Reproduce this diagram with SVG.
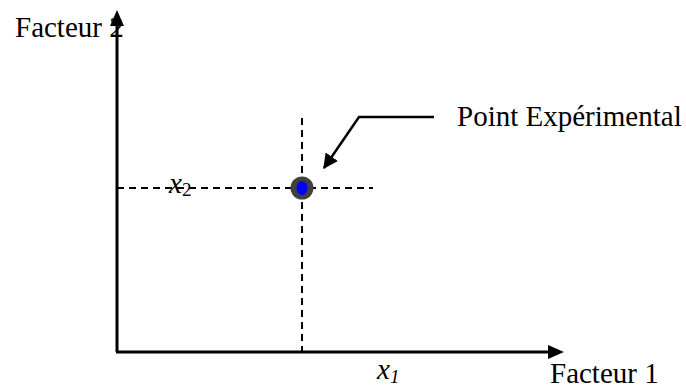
<svg xmlns="http://www.w3.org/2000/svg" width="686" height="390" viewBox="0 0 686 390">
<style>
.t{font-family:"Liberation Serif","Times New Roman",serif;font-size:29px;fill:#000}
.v{font-family:"Liberation Serif","Times New Roman",serif;font-style:italic;font-size:29px;fill:#000}
.s{font-size:19px}
.axis{stroke:#000;stroke-width:3;fill:none}
.dash{stroke:#000;stroke-width:2;stroke-dasharray:7 5;fill:none}
.lead{stroke:#000;stroke-width:2.5;fill:none}
</style>
<defs>
<marker id="ah" markerWidth="6" markerHeight="6" refX="5.5" refY="3" orient="auto" markerUnits="strokeWidth">
<path d="M0,0 L6,3 L0,6 Z" fill="#000"/>
</marker>
</defs>
<rect width="686" height="390" fill="#fff"/>
<g id="label-facteur2"><text class="t" x="15" y="37">Facteur 2</text></g>
<g id="label-facteur1"><text class="t" x="550" y="383">Facteur 1</text></g>
<g id="label-x1"><text class="v" x="377" y="379">x<tspan class="s" dy="4">1</tspan></text></g>
<g id="label-x2"><text class="v" x="169" y="193">x<tspan class="s" font-style="normal" dy="3">2</tspan></text></g>
<g id="connectors">
<path class="dash" d="M117,188 H373"/>
<path class="dash" d="M302,118 V352"/>
<path class="lead" d="M434,117 H359 L324,168" marker-end="url(#ah)"/>
</g>
<g id="axes">
<path class="axis" d="M117,352 V24"/>
<path d="M117,10 L110,26 L124,26 Z" fill="#000"/>
<path class="axis" d="M116,352 H549"/>
<path d="M564,352 L548,345 L548,359 Z" fill="#000"/>
</g>
<g id="point">
<circle cx="302" cy="188" r="11.5" fill="#404040"/>
<ellipse cx="302" cy="188" rx="5.5" ry="7" fill="#0000ff"/>
</g>
<g id="label-point"><text class="t" x="457" y="126">Point Expérimental</text></g>
</svg>
